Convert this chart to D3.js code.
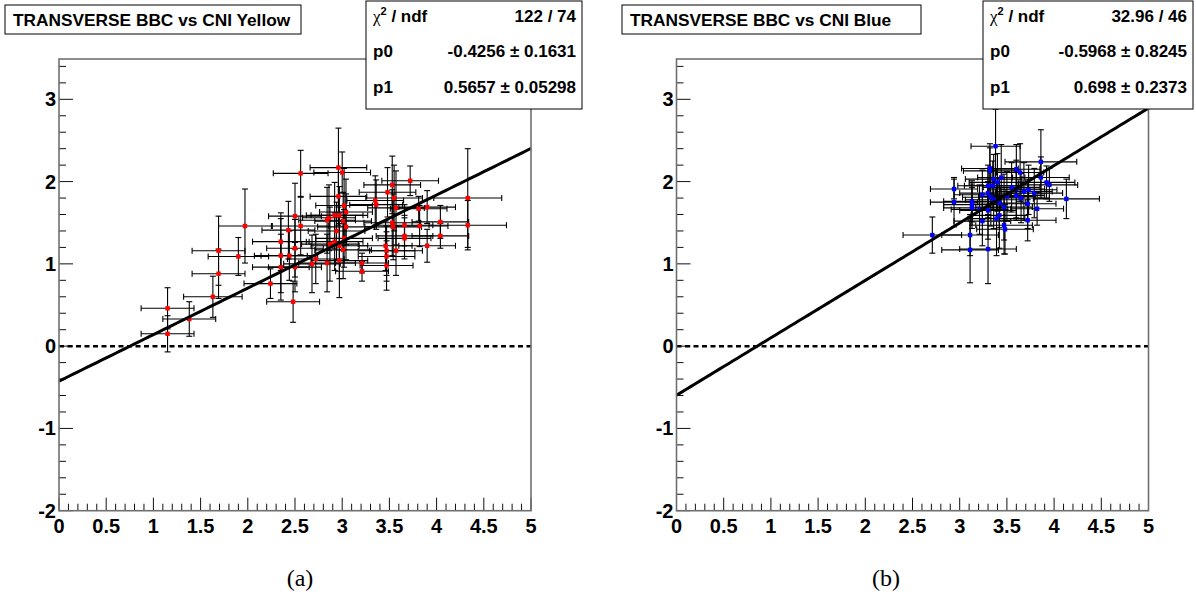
<!DOCTYPE html>
<html><head><meta charset="utf-8">
<script src="https://cdn.jsdelivr.net/npm/d3@7"></script>
<style>body{margin:0;background:#fff;overflow:hidden}</style>
</head><body>
<svg id="c" width="1196" height="615" xmlns="http://www.w3.org/2000/svg"></svg>
<script>
// ---- Data: panel (a) TRANSVERSE BBC vs CNI Yellow ----
const yellowX  = [1.15,1.15,1.38,1.63,1.69,1.69,1.90,1.97,2.24,2.35,2.35,2.35,2.43,2.44,2.48,2.50,2.50,2.50,2.56,2.56,2.68,2.72,2.84,2.86,2.84,2.87,2.92,2.96,3.00,2.96,3.02,3.04,2.97,3.01,3.04,2.94,2.92,2.97,3.02,3.01,2.97,3.21,3.21,3.35,3.36,3.46,3.47,3.47,3.47,3.48,3.53,3.55,3.57,3.53,3.54,3.57,3.66,3.66,3.66,3.72,3.81,3.82,3.90,3.90,4.04,4.04,4.33,4.33];
const yellowY  = [0.46,0.15,0.33,0.60,0.88,1.16,1.09,1.46,0.76,1.27,1.10,0.96,1.41,1.10,0.54,1.58,1.19,0.96,2.10,1.46,1.00,1.06,1.53,1.56,1.01,1.24,1.59,2.17,2.11,1.82,1.71,1.63,1.59,1.52,1.45,1.40,1.27,1.22,1.31,1.17,1.04,1.01,0.91,1.77,1.72,1.22,1.16,1.09,0.98,1.87,1.96,1.80,1.68,1.50,1.45,1.16,1.47,1.34,1.31,2.01,1.67,1.46,1.69,1.22,1.51,1.34,1.80,1.47];
const yellowEX = [0.28,0.28,0.28,0.31,0.28,0.28,0.32,0.28,0.28,0.30,0.28,0.30,0.28,0.30,0.28,0.28,0.30,0.28,0.29,0.30,0.30,0.30,0.30,0.28,0.30,0.30,0.30,0.30,0.30,0.30,0.30,0.28,0.30,0.30,0.30,0.30,0.30,0.30,0.30,0.30,0.30,0.28,0.28,0.30,0.28,0.28,0.30,0.30,0.28,0.30,0.30,0.30,0.30,0.30,0.30,0.28,0.30,0.30,0.28,0.30,0.30,0.30,0.30,0.30,0.30,0.30,0.36,0.41];
const yellowEY = [0.25,0.22,0.21,0.25,0.30,0.42,0.23,0.45,0.18,0.35,0.45,0.40,0.35,0.30,0.25,0.40,0.35,0.30,0.28,0.35,0.35,0.30,0.40,0.40,0.35,0.45,0.40,0.48,0.25,0.35,0.45,0.40,0.35,0.35,0.40,0.35,0.35,0.40,0.35,0.35,0.45,0.12,0.12,0.30,0.30,0.30,0.30,0.30,0.30,0.30,0.35,0.40,0.45,0.40,0.40,0.30,0.25,0.25,0.25,0.18,0.15,0.25,0.20,0.20,0.20,0.15,0.60,0.30];
const yellowFit = {p0: -0.4256, p1: 0.5657};
const yellowStats = [["χ2 / ndf", "122 / 74"], ["p0", "-0.4256 ± 0.1631"], ["p1", "0.5657 ± 0.05298"]];

// ---- Data: panel (b) TRANSVERSE BBC vs CNI Blue ----
const blueX  = [3.38,3.86,3.32,3.32,3.60,3.64,3.44,3.36,3.40,3.86,3.92,3.95,2.94,3.30,3.35,3.55,3.60,3.73,3.68,3.79,3.30,3.24,3.33,3.36,3.60,3.65,4.13,2.94,3.13,3.13,3.13,3.21,3.30,3.47,3.72,3.82,3.42,3.39,3.24,3.72,3.47,3.48,2.71,3.11,3.11,3.30,3.50,3.42];
const blueY  = [2.43,2.24,2.16,2.13,2.15,2.11,2.05,2.03,1.99,2.05,1.99,1.96,1.91,1.95,1.95,1.93,1.91,1.90,1.88,1.86,1.86,1.84,1.81,1.78,1.83,1.80,1.79,1.75,1.76,1.72,1.68,1.66,1.65,1.69,1.73,1.67,1.59,1.55,1.52,1.53,1.47,1.42,1.35,1.35,1.17,1.18,1.82,1.74];
const blueEX = [0.26,0.38,0.30,0.28,0.25,0.25,0.25,0.30,0.30,0.30,0.30,0.30,0.25,0.32,0.30,0.30,0.30,0.30,0.30,0.30,0.30,0.30,0.30,0.30,0.30,0.30,0.35,0.25,0.30,0.30,0.30,0.30,0.30,0.30,0.30,0.28,0.30,0.30,0.30,0.30,0.30,0.30,0.31,0.30,0.30,0.30,0.30,0.28];
const blueEY = [0.45,0.39,0.30,0.28,0.30,0.35,0.40,0.30,0.35,0.25,0.20,0.20,0.12,0.25,0.30,0.30,0.35,0.30,0.35,0.30,0.30,0.30,0.35,0.35,0.30,0.30,0.24,0.30,0.25,0.25,0.25,0.30,0.35,0.40,0.30,0.20,0.40,0.45,0.30,0.25,0.35,0.30,0.22,0.25,0.40,0.42,0.30,0.30];
const blueFit = {p0: -0.5968, p1: 0.698};
const blueStats = [["χ2 / ndf", "32.96 / 46"], ["p0", "-0.5968 ± 0.8245"], ["p1", "0.698 ± 0.2373"]];

// axis tick definitions
const xTickLabels = [0,0.5,1,1.5,2,2.5,3,3.5,4,4.5,5];
const yTickLabels = [-2,-1,0,1,2,3];

const svg = d3.select("#c");
const FONT = "'Liberation Sans', Arial, Helvetica, sans-serif";

function drawPanel(cfg) {
  const L = cfg.left, R = cfg.left + 472, T = 59, B = 510.7;
  const x = d3.scaleLinear().domain([0, 5]).range([L, R]);
  const y = d3.scaleLinear().domain([-2, 3.49]).range([B, T]);
  const g = svg.append("g");

  // minor / major ticks (ROOT style, pointing inward)
  const xt = d3.range(0, 5.0001, 0.1).map(v => +v.toFixed(2));
  xt.forEach(v => {
    const major = Math.abs(v * 2 - Math.round(v * 2)) < 1e-6;
    g.append("line").attr("x1", x(v)).attr("x2", x(v)).attr("y1", B).attr("y2", B - (major ? 13 : 7))
      .attr("stroke", "#111").attr("stroke-width", 1);
  });
  const yt = d3.range(-2, 3.49, 0.2).map(v => +v.toFixed(2));
  yt.forEach(v => {
    const major = Math.abs(v - Math.round(v)) < 1e-6;
    g.append("line").attr("x1", L).attr("x2", L + (major ? 14 : 7)).attr("y1", y(v)).attr("y2", y(v))
      .attr("stroke", "#111").attr("stroke-width", 1);
  });

  // tick labels
  g.selectAll(".xl").data(xTickLabels).enter().append("text")
    .attr("x", d => x(d)).attr("y", 533).attr("text-anchor", "middle")
    .attr("font-family", FONT).attr("font-weight", "bold").attr("font-size", 20)
    .text(d => d);
  g.selectAll(".yl").data(yTickLabels).enter().append("text")
    .attr("x", L - 3).attr("y", d => y(d) + 7).attr("text-anchor", "end")
    .attr("font-family", FONT).attr("font-weight", "bold").attr("font-size", 20)
    .text(d => d);

  // dashed zero line
  g.append("line").attr("x1", x(0)).attr("x2", x(5)).attr("y1", y(0)).attr("y2", y(0))
    .attr("stroke", "#000").attr("stroke-width", 2.5).attr("stroke-dasharray", "5,3.5");

  // error bars + points
  const pts = cfg.xs.map((v, i) => ({x: v, y: cfg.ys[i], ex: cfg.exs[i], ey: cfg.eys[i]}));
  const eb = g.append("g").attr("stroke", "#000").attr("stroke-width", 1.1);
  pts.forEach(p => {
    const cx = x(p.x), cy = y(p.y);
    const x0 = x(p.x - p.ex), x1 = x(p.x + p.ex), y0 = y(p.y - p.ey), y1 = y(p.y + p.ey);
    eb.append("line").attr("x1", x0).attr("x2", x1).attr("y1", cy).attr("y2", cy);
    eb.append("line").attr("x1", cx).attr("x2", cx).attr("y1", y0).attr("y2", y1);
    eb.append("line").attr("x1", x0).attr("x2", x0).attr("y1", cy - 3).attr("y2", cy + 3);
    eb.append("line").attr("x1", x1).attr("x2", x1).attr("y1", cy - 3).attr("y2", cy + 3);
    eb.append("line").attr("x1", cx - 3).attr("x2", cx + 3).attr("y1", y0).attr("y2", y0);
    eb.append("line").attr("x1", cx - 3).attr("x2", cx + 3).attr("y1", y1).attr("y2", y1);
  });
  g.selectAll(".pt").data(pts).enter().append("rect")
    .attr("x", d => x(d.x) - 2.2).attr("y", d => y(d.y) - 2.2).attr("width", 4.4).attr("height", 4.4)
    .attr("fill", cfg.color);

  // fit line
  const fx = d3.range(0, 5.0001, 0.05);
  g.append("path").datum(fx)
    .attr("d", d3.line().x(v => x(v)).y(v => y(cfg.fit.p0 + cfg.fit.p1 * v)))
    .attr("fill", "none").attr("stroke", "#000").attr("stroke-width", 3);

  // frame
  g.append("rect").attr("x", L).attr("y", T).attr("width", R - L).attr("height", B - T)
    .attr("fill", "none").attr("stroke", "#707070").attr("stroke-width", 1.6);

  // title box
  const tb = cfg.titleBox;
  g.append("rect").attr("x", tb[0]).attr("y", tb[1]).attr("width", tb[2]).attr("height", tb[3])
    .attr("fill", "#fff").attr("stroke", "#000").attr("stroke-width", 1);
  g.append("text").attr("x", tb[0] + 8).attr("y", tb[1] + tb[3] / 2 + 6.3)
    .attr("font-family", FONT).attr("font-weight", "bold").attr("font-size", 17.3)
    .text(cfg.title);

  // stats box
  const sb = cfg.statsBox;
  g.append("rect").attr("x", sb[0]).attr("y", sb[1]).attr("width", sb[2]).attr("height", sb[3])
    .attr("fill", "#fff").attr("stroke", "#000").attr("stroke-width", 1);
  const rowY = [22, 57, 93];
  cfg.stats.forEach((row, i) => {
    const lt = g.append("text").attr("x", sb[0] + 7).attr("y", rowY[i])
      .attr("font-family", FONT).attr("font-weight", "bold").attr("font-size", 17);
    if (i === 0) {
      lt.append("tspan").attr("font-weight", "normal").attr("font-family", "'Liberation Serif', serif").text("χ");
      lt.append("tspan").attr("dy", -7).attr("font-size", 11).text("2");
      lt.append("tspan").attr("dy", 7).text(" / ndf");
    } else {
      lt.text(row[0]);
    }
    g.append("text").attr("x", sb[0] + sb[2] - 6).attr("y", rowY[i]).attr("text-anchor", "end")
      .attr("font-family", FONT).attr("font-weight", "bold").attr("font-size", 17)
      .text(row[1]);
  });

  // caption
  g.append("text").attr("x", cfg.captionX).attr("y", 586).attr("text-anchor", "middle")
    .attr("font-family", "'Liberation Serif', 'Times New Roman', serif").attr("font-size", 24)
    .text(cfg.caption);
}

drawPanel({left: 59, xs: yellowX, ys: yellowY, exs: yellowEX, eys: yellowEY, color: "#ff0000",
  fit: yellowFit, stats: yellowStats, title: "TRANSVERSE BBC vs CNI Yellow",
  titleBox: [5, 5, 296, 29], statsBox: [366, 1, 216, 108], caption: "(a)", captionX: 300});
drawPanel({left: 676.5, xs: blueX, ys: blueY, exs: blueEX, eys: blueEY, color: "#0000ff",
  fit: blueFit, stats: blueStats, title: "TRANSVERSE BBC vs CNI Blue",
  titleBox: [622, 5, 299, 29], statsBox: [983, 1, 210, 108], caption: "(b)", captionX: 886});
</script>
</body></html>
